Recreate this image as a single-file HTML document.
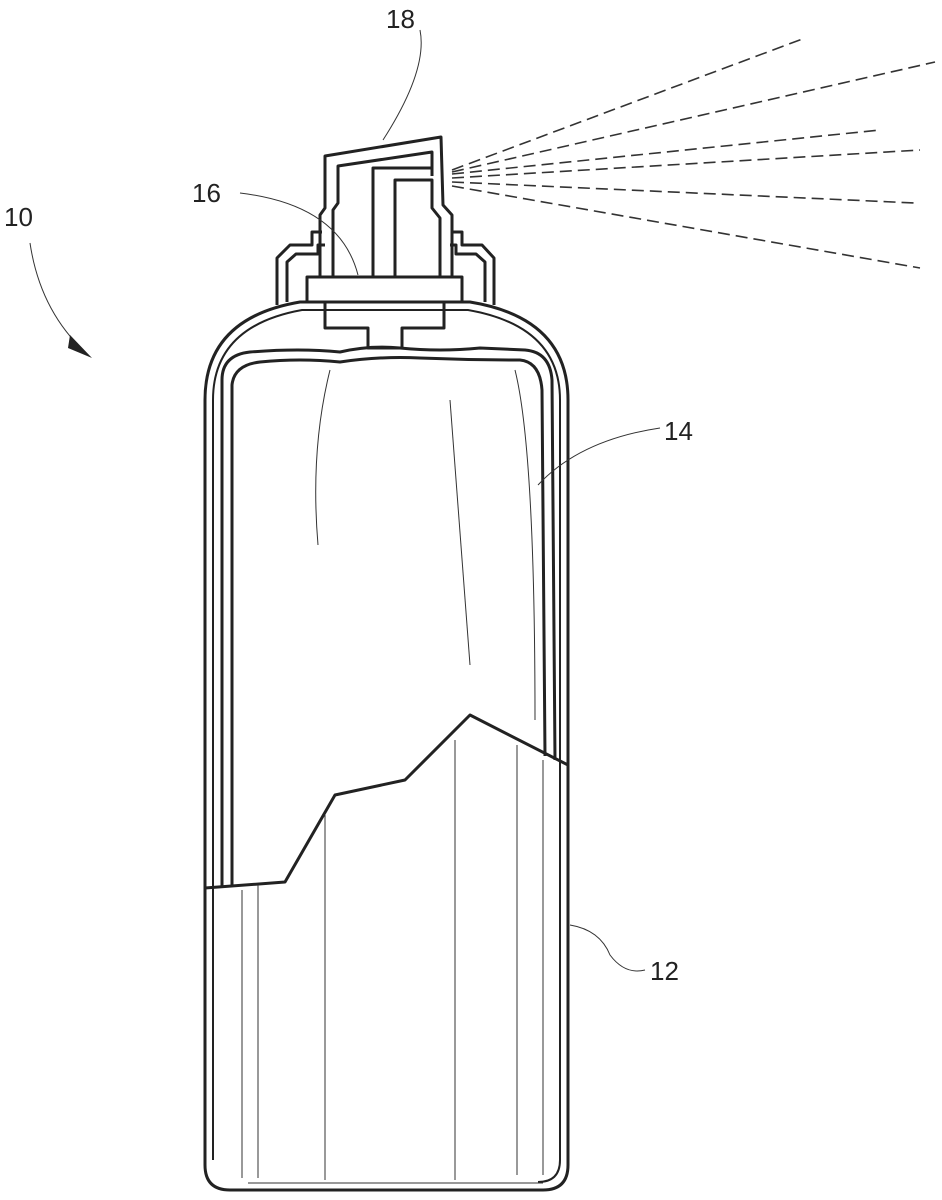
<!DOCTYPE html>
<html><head><meta charset="utf-8"><style>html,body{margin:0;padding:0;background:#fff}svg{display:block}</style></head>
<body>
<svg width="942" height="1200" viewBox="0 0 942 1200" xmlns="http://www.w3.org/2000/svg">
<g fill="none" stroke="#222" stroke-width="3" stroke-linejoin="round">
<!-- can outer -->
<path d="M205 1165 L205 400 Q205 318 300 302 L470 302 Q568 318 568 400 L568 1165 Q568 1190 543 1190 L230 1190 Q205 1190 205 1165 Z"/>
<path d="M213 1160 L213 400 Q213 326 302 310 L468 310 Q560 326 560 400 L560 1160 Q560 1182 538 1182" stroke-width="2"/>
<!-- bag -->
<path d="M222 888 L222 380 Q222 355 250 352 Q300 348 340 352 Q370 345 400 348 Q440 352 480 348 L525 350 Q550 352 552 380 L555 760"/>
<path d="M232 885 L232 385 Q234 365 260 362 Q300 358 340 362 Q380 356 420 358 Q470 360 520 360 Q540 362 542 390 L545 756"/>
<!-- tear line -->
<path d="M205 888 L285 882 L335 795 L405 780 L470 715 L568 765"/>
<!-- collar / cup -->
<path d="M277 305 L277 258 L290 245 L312 245 L312 232 L322 232"/>
<path d="M287 302 L287 262 L296 254 L318 254 L318 245 L325 245"/>
<path d="M494 305 L494 258 L482 245 L462 245 L462 232 L452 232"/>
<path d="M485 302 L485 262 L476 254 L456 254 L456 245 L450 245"/>
<!-- platform -->
<rect x="307" y="277" width="155" height="25"/>
<path d="M325 302 L325 328 L368 328 L368 348 L402 348 L402 328 L444 328 L444 302"/>
<!-- actuator -->
<path d="M320 277 L320 215 L325 208 L325 156 L441 137 L443 205 L452 215 L452 277"/>
<path d="M333 277 L333 210 L338 203 L338 166 L432 152 L432 176"/>
<path d="M373 277 L373 168 L432 168"/>
<path d="M395 277 L395 180 L432 180 L432 208 L440 218 L440 277"/>
</g>
<!-- thin lines -->
<g fill="none" stroke="#333" stroke-width="1">
<path d="M420 30 Q428 70 383 140"/>
<path d="M240 193 Q340 205 358 275"/>
<path d="M30 243 Q40 310 85 352"/>
<path d="M660 428 Q580 440 538 485"/>
<path d="M570 925 Q600 930 610 955 Q625 975 645 970"/>
<path d="M330 370 Q310 450 318 545"/><path d="M450 400 L470 665"/><path d="M515 370 Q535 450 535 720"/>
<path d="M242 890 L242 1178"/><path d="M258 885 L258 1178"/><path d="M325 815 L325 1180"/><path d="M455 740 L455 1180"/><path d="M517 745 L517 1175"/><path d="M543 760 L543 1175"/>
<path d="M248 1183 L543 1183"/>
</g>
<path d="M70 335 L92 358 L68 348 Z" fill="#222"/>
<g fill="none" stroke="#333" stroke-width="1.6" stroke-dasharray="12 6">
<path d="M452 170 L805 38"/><path d="M452 172 L935 62"/><path d="M452 174 L880 130"/><path d="M452 178 L920 150"/><path d="M452 182 L915 203"/><path d="M452 186 L920 268"/>
</g>
<g font-family="Liberation Sans, sans-serif" font-size="26" fill="#222">
<text x="386" y="28">18</text><text x="192" y="202">16</text><text x="4" y="226">10</text><text x="664" y="440">14</text><text x="650" y="980">12</text>
</g>
</svg>
</body></html>
